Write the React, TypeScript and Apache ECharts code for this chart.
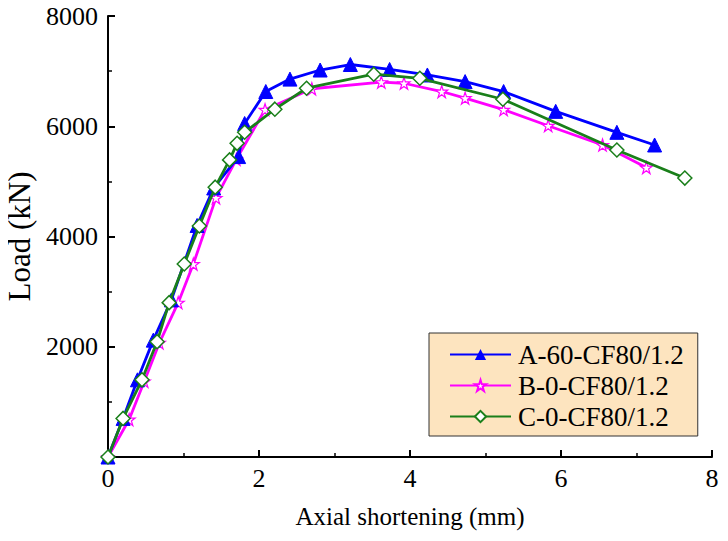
import React, { useEffect, useRef } from "react";
import * as echarts from "echarts";

const seriesNames = ["A-60-CF80/1.2", "B-0-CF80/1.2", "C-0-CF80/1.2"];

const aX = [0, 0.2, 0.39, 0.6, 0.84, 1.18, 1.4, 1.73, 1.81, 2.09, 2.41, 2.81, 3.21, 3.73, 4.23, 4.73, 5.24, 5.93, 6.74, 7.24];
const aY = [0, 700, 1400, 2120, 2850, 4200, 4880, 5450, 6050, 6630, 6855, 7020, 7120, 7030, 6930, 6810, 6630, 6270, 5890, 5660];

const bX = [0, 0.28, 0.48, 0.68, 0.93, 1.13, 1.43, 1.7, 2.08, 2.7, 3.62, 3.92, 4.42, 4.73, 5.24, 5.83, 6.55, 7.13];
const bY = [0, 680, 1370, 2070, 2800, 3500, 4700, 5400, 6300, 6680, 6800, 6780, 6630, 6510, 6300, 6010, 5660, 5250];

const cX = [0, 0.2, 0.45, 0.65, 0.81, 1.01, 1.21, 1.42, 1.61, 1.71, 1.81, 2.21, 2.63, 3.52, 4.13, 5.23, 6.74, 7.64];
const cY = [0, 700, 1400, 2090, 2800, 3500, 4190, 4895, 5390, 5690, 5890, 6310, 6690, 6945, 6870, 6490, 5570, 5060];

const xTicks = [0, 2, 4, 6, 8];
const yTicks = [2000, 4000, 6000, 8000];

const FONT = "Liberation Serif";

const pairs = (xs: number[], ys: number[]) => xs.map((x, i) => [x, ys[i]]);

export default function App() {
  const ref = useRef<HTMLDivElement>(null);
  useEffect(() => {
    if (!ref.current) return;
    const chart = echarts.init(ref.current, null, { renderer: "svg" });
    const axisCommon = {
      axisLine: { show: true, onZero: false, lineStyle: { color: "#000", width: 2 } },
      axisTick: { show: true, inside: true, length: 7, lineStyle: { color: "#000", width: 2 } },
      minorTick: { show: true, splitNumber: 2, length: 4, lineStyle: { color: "#000", width: 1.5 } },
      splitLine: { show: false },
      axisLabel: { color: "#000", fontFamily: FONT, fontSize: 26 },
      nameTextStyle: { color: "#000", fontFamily: FONT },
    };
    chart.setOption({
      animation: false,
      backgroundColor: "#fff",
      grid: { left: 108, right: 16, top: 16, bottom: 84, containLabel: false, outerBoundsMode: "none" },
      xAxis: {
        type: "value",
        min: 0,
        max: 8,
        interval: 2,
        name: "Axial shortening (mm)",
        nameLocation: "middle",
        nameGap: 47,
        ...axisCommon,
        axisLabel: { ...axisCommon.axisLabel, margin: 8, formatter: (v: number) => (xTicks.includes(v) ? String(v) : "") },
        nameTextStyle: { ...axisCommon.nameTextStyle, fontSize: 25 },
      },
      yAxis: {
        type: "value",
        min: 0,
        max: 8000,
        interval: 2000,
        name: "Load (kN)",
        nameLocation: "middle",
        nameGap: 66,
        ...axisCommon,
        axisLabel: { ...axisCommon.axisLabel, margin: 10, formatter: (v: number) => (yTicks.includes(v) ? String(v) : "") },
        nameTextStyle: { ...axisCommon.nameTextStyle, fontSize: 31 },
      },
      legend: {
        orient: "vertical",
        left: 429,
        top: 333,
        width: 271,
        backgroundColor: "#fde4bf",
        borderColor: "#333",
        borderWidth: 1,
        borderRadius: 0,
        padding: [8, 14, 6, 20],
        itemGap: 4,
        itemWidth: 61,
        itemHeight: 14,
        textStyle: { color: "#000", fontFamily: FONT, fontSize: 27, padding: [0, 0, 0, 2] },
        data: seriesNames,
      },
      series: [
        {
          name: seriesNames[0],
          type: "line",
          data: pairs(aX, aY),
          symbol: "triangle",
          symbolSize: 14,
          lineStyle: { color: "#0000ff", width: 2.8 },
          itemStyle: { color: "#0000ff", borderColor: "#0000ff" },
          z: 3,
        },
        {
          name: seriesNames[1],
          type: "line",
          data: pairs(bX, bY),
          symbol: "path://M50,0 L61.8,35.4 L100,35.4 L69.1,57.3 L80.9,92.7 L50,70.8 L19.1,92.7 L30.9,57.3 L0,35.4 L38.2,35.4 Z",
          symbolSize: 12,
          lineStyle: { color: "#ff00ff", width: 2.8 },
          itemStyle: { color: "#ffffff", borderColor: "#ff00ff", borderWidth: 1.2 },
          z: 2,
        },
        {
          name: seriesNames[2],
          type: "line",
          data: pairs(cX, cY),
          symbol: "diamond",
          symbolSize: 14,
          lineStyle: { color: "#1a7f1a", width: 2.8 },
          itemStyle: { color: "#ffffff", borderColor: "#1a7f1a", borderWidth: 1.5 },
          z: 4,
        },
      ],
    });
    return () => chart.dispose();
  }, []);
  return <div ref={ref} style={{ width: 728, height: 541, margin: -8 }} />;
}
